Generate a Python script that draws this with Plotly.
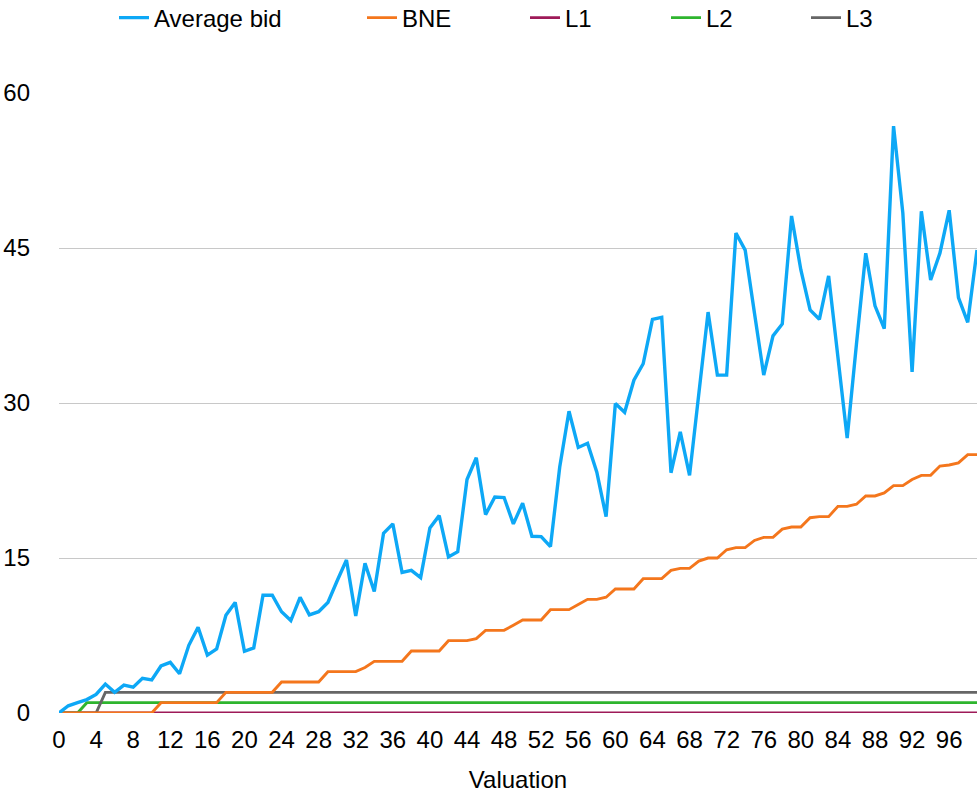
import plotly.graph_objects as go

valuation = list(range(100))

average_bid = [
    0.0, 0.7, 1.0, 1.3, 1.8, 2.8, 2.0, 2.7, 2.5, 3.35,
    3.2, 4.55, 4.9, 3.8, 6.55, 8.3, 5.6, 6.2, 9.45, 10.7,
    5.97, 6.3, 11.4, 11.4, 9.8, 8.95, 11.2, 9.5, 9.8, 10.7,
    12.8, 14.8, 9.4, 14.5, 11.75, 17.4, 18.3, 13.6, 13.8, 13.1,
    17.9, 19.1, 15.1, 15.6, 22.6, 24.7, 19.2, 20.9, 20.85, 18.3,
    20.3, 17.1, 17.07, 16.1, 23.8, 29.2, 25.7, 26.1, 23.3, 19.0,
    29.95, 29.1, 32.2, 33.8, 38.1, 38.3, 23.25, 27.2, 23.0, 30.9,
    38.8, 32.7, 32.7, 46.45, 44.8, 38.7, 32.7, 36.5, 37.65, 48.1,
    42.9, 39.0, 38.1, 42.3, 34.3, 26.6, 35.7, 44.5, 39.4, 37.2,
    56.8, 48.4, 33.0, 48.55, 41.9, 44.5, 48.65, 40.2, 37.8, 44.8,
]

bne = [
    0, 0, 0, 0, 0, 0, 0, 0, 0, 0,
    0, 1, 1, 1, 1, 1, 1, 1, 2, 2,
    2, 2, 2, 2, 3, 3, 3, 3, 3, 4,
    4, 4, 4, 4.4, 5, 5, 5, 5, 6, 6,
    6, 6, 7, 7, 7, 7.2, 8, 8, 8, 8.5,
    9, 9, 9, 10, 10, 10, 10.5, 11, 11, 11.2,
    12, 12, 12, 13, 13, 13, 13.8, 14, 14, 14.7,
    15, 15, 15.8, 16, 16, 16.7, 17, 17, 17.8, 18,
    18, 18.9, 19, 19, 20, 20, 20.2, 21, 21, 21.3,
    22, 22, 22.6, 23, 23, 23.9, 24, 24.2, 25, 25,
]

l1 = [0] * 100
l2 = [0, 0, 0] + [1] * 97
l3 = [0, 0, 0, 0, 0] + [2] * 95

series_names = ["Average bid", "BNE", "L1", "L2", "L3"]
x_tick_vals = list(range(0, 97, 4))
y_tick_vals = [0, 15, 30, 45, 60]

colors = {
    "Average bid": "#0DA8F6",
    "BNE": "#F4761C",
    "L1": "#9E1A58",
    "L2": "#2EB52E",
    "L3": "#666666",
}
series = {"Average bid": average_bid, "BNE": bne, "L1": l1, "L2": l2, "L3": l3}

W, H = 977, 795
FONT = "Liberation Sans, Arial, Helvetica, sans-serif"
FS = 24

# legend item origin positions (px) for each series
legend_px = {"Average bid": 114, "BNE": 362, "L1": 525, "L2": 666, "L3": 806}
legend_ids = {"Average bid": "legend", "BNE": "legend2", "L1": "legend3", "L2": "legend4", "L3": "legend5"}

fig = go.Figure()
draw_order = ["L1", "L2", "L3", "BNE", "Average bid"]
for name in draw_order:
    fig.add_trace(go.Scatter(
        x=valuation, y=series[name], name=name, mode="lines",
        line=dict(color=colors[name], width=3.4 if name == "Average bid" else 2.9),
        legend=legend_ids[name],
    ))

layout_legends = {}
for name in series_names:
    layout_legends[legend_ids[name]] = dict(
        orientation="h", xref="container", yref="container",
        x=legend_px[name] / W, xanchor="left",
        y=1 - 18 / H, yanchor="middle",
        bgcolor="rgba(0,0,0,0)", borderwidth=0,
        font=dict(family=FONT, size=FS, color="#000000"),
    )

fig.update_layout(
    width=W, height=H,
    margin=dict(l=59, r=0, t=93, b=82),
    paper_bgcolor="white", plot_bgcolor="white",
    font=dict(family=FONT, size=FS, color="#000000"),
    showlegend=True,
    xaxis=dict(
        range=[0, 99], tickvals=x_tick_vals, ticktext=[str(v) for v in x_tick_vals],
        showgrid=False, zeroline=False, showline=False, ticks="",
        ticklabelstandoff=10,
        tickfont=dict(family=FONT, size=FS, color="#000000"),
        title=dict(text="Valuation", font=dict(family=FONT, size=FS, color="#000000"), standoff=19),
        fixedrange=True,
    ),
    yaxis=dict(
        range=[0, 60], tickvals=y_tick_vals, ticktext=[str(v) for v in y_tick_vals],
        showgrid=True, gridcolor="#C8C8C8", gridwidth=1, zeroline=False,
        showline=False, ticks="", ticklabelstandoff=28,
        tickfont=dict(family=FONT, size=FS, color="#000000"),
        fixedrange=True,
    ),
    **layout_legends,
)

fig.write_html(
    "out.html",
    config={"displayModeBar": False},
    post_script="document.body.style.margin='0';",
)
